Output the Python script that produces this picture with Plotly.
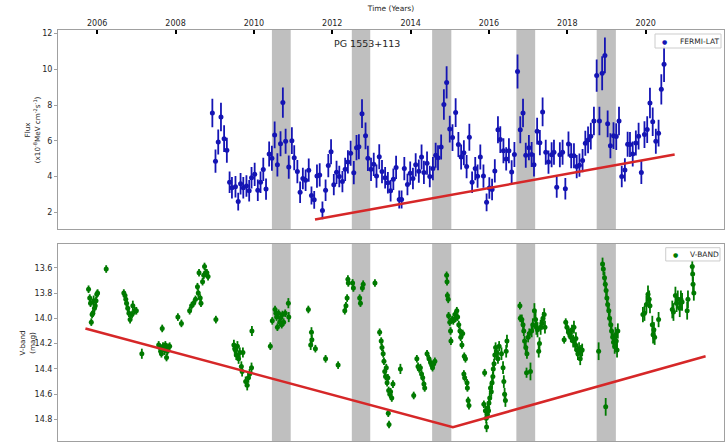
import plotly.graph_objects as go

# ---------------- Fermi-LAT gamma-ray light curve ----------------
flux_year = [
    2008.94, 2009.02, 2009.09, 2009.16, 2009.24, 2009.31, 2009.38, 2009.44, 2009.53, 2009.60,
    2009.66, 2009.73, 2009.81, 2009.88, 2009.94, 2010.02, 2010.10, 2010.17, 2010.24, 2010.31,
    2010.39, 2010.46, 2010.53, 2010.60, 2010.68, 2010.74, 2010.81, 2010.89, 2010.97, 2011.03,
    2011.11, 2011.18, 2011.25, 2011.32, 2011.40, 2011.47, 2011.54, 2011.61, 2011.68, 2011.75,
    2011.83, 2011.90, 2011.97, 2012.04, 2012.11, 2012.18, 2012.26, 2012.33, 2012.40, 2012.47,
    2012.55, 2012.62, 2012.68, 2012.76,
    2012.85, 2012.91, 2012.99, 2013.06, 2013.13, 2013.20, 2013.27, 2013.35, 2013.42, 2013.49,
    2013.56, 2013.63, 2013.71, 2013.77, 2013.84, 2013.92, 2013.99, 2014.06, 2014.13, 2014.21,
    2014.28, 2014.34, 2014.42, 2014.49, 2014.57, 2014.64, 2014.70, 2014.78, 2014.85, 2014.92,
    2015.00, 2015.07, 2015.15, 2015.22, 2015.29, 2015.36, 2015.43, 2015.50, 2015.57, 2015.65,
    2015.71, 2015.78, 2015.86, 2015.94, 2016.01, 2016.08, 2016.15, 2016.23, 2016.29, 2016.37,
    2016.44, 2016.51, 2016.58, 2016.65, 2016.73, 2016.80, 2016.87, 2016.94, 2017.02, 2017.09,
    2017.15, 2017.23, 2017.30, 2017.37, 2017.45, 2017.52, 2017.60, 2017.66, 2017.73, 2017.81,
    2017.88, 2017.95, 2018.03, 2018.10, 2018.17, 2018.24, 2018.31, 2018.39, 2018.46, 2018.53,
    2018.60, 2018.68, 2018.75, 2018.82, 2018.89, 2018.96, 2019.03, 2019.10, 2019.18, 2019.25,
    2019.32, 2019.39, 2019.47, 2019.54, 2019.60, 2019.67, 2019.75, 2019.82, 2019.89, 2019.97,
    2020.04, 2020.11, 2020.18, 2020.26, 2020.33, 2020.40, 2020.47,
]
flux = [
    7.56, 4.86, 5.94, 7.33, 6.12, 5.47, 3.68, 3.38, 3.43, 2.60,
    3.60, 3.38, 3.47, 3.21, 3.94, 4.13, 3.24, 3.68, 4.40, 3.30,
    5.26, 5.03, 6.33, 4.66, 5.84, 8.14, 5.98, 4.53, 6.01, 5.05,
    4.28, 3.13, 3.89, 3.79, 4.36, 2.94, 2.70, 4.03, 4.09, 2.11,
    3.24, 4.62, 5.39, 3.55, 4.24, 4.00, 3.72, 4.41, 4.82, 5.30,
    4.22, 5.62, 5.67, 7.52,
    6.28, 5.02, 4.41, 4.69, 4.03, 5.11, 4.28, 3.94, 3.66, 3.21,
    3.85, 4.51, 2.72, 2.72, 4.45, 3.56, 4.19, 3.89, 4.66, 4.30,
    5.09, 4.23, 4.75, 4.00, 4.45, 5.20, 5.05, 5.66, 8.03, 9.27,
    6.66, 6.18, 7.58, 5.79, 5.09, 5.33, 4.56, 6.20, 3.68, 4.45,
    4.02, 5.09, 4.03, 2.56, 3.36, 3.28, 4.32, 6.62, 6.07, 5.45,
    4.99, 5.45, 4.26, 5.24, 9.88, 6.62, 7.56, 5.20, 5.62, 5.24,
    4.66, 6.54, 5.90, 7.62, 5.36, 4.81, 5.22, 5.36, 3.41, 5.22,
    5.36, 3.32, 5.82, 5.16, 5.16, 4.56, 4.64, 4.90, 5.86, 6.05,
    6.26, 7.11, 9.65, 7.11, 9.78, 10.78, 6.95, 5.73, 6.29, 6.24,
    7.11, 4.00, 4.37, 5.81, 5.79, 5.26, 5.88, 6.26, 4.23, 6.35,
    6.63, 8.12, 7.07, 5.98, 6.43, 8.88, 10.29,
]
flux_err = [
    0.80, 0.65, 0.70, 0.80, 0.75, 0.70, 0.60, 0.60, 0.60, 0.50,
    0.60, 0.60, 0.60, 0.60, 0.60, 0.65, 0.60, 0.60, 0.65, 0.60,
    0.70, 0.70, 0.75, 0.65, 0.70, 0.85, 0.70, 0.65, 0.75, 0.70,
    0.65, 0.60, 0.60, 0.60, 0.65, 0.50, 0.50, 0.65, 0.65, 0.50,
    0.60, 0.65, 0.70, 0.60, 0.65, 0.60, 0.60, 0.65, 0.65, 0.70,
    0.65, 0.70, 0.70, 0.80,
    0.75, 0.70, 0.65, 0.65, 0.65, 0.70, 0.65, 0.60, 0.60, 0.60,
    0.60, 0.65, 0.50, 0.50, 0.65, 0.60, 0.65, 0.60, 0.65, 0.65,
    0.70, 0.65, 0.65, 0.60, 0.65, 0.70, 0.70, 0.70, 0.85, 0.90,
    0.75, 0.75, 0.80, 0.70, 0.70, 0.70, 0.65, 0.75, 0.60, 0.65,
    0.65, 0.70, 0.65, 0.50, 0.60, 0.60, 0.65, 0.75, 0.75, 0.70,
    0.65, 0.70, 0.65, 0.70, 0.95, 0.75, 0.80, 0.70, 0.70, 0.70,
    0.65, 0.75, 0.70, 0.80, 0.70, 0.65, 0.70, 0.70, 0.60, 0.70,
    0.70, 0.60, 0.70, 0.70, 0.70, 0.65, 0.65, 0.65, 0.70, 0.75,
    0.75, 0.80, 0.90, 0.80, 0.95, 1.00, 0.75, 0.70, 0.75, 0.75,
    0.80, 0.60, 0.65, 0.70, 0.70, 0.70, 0.70, 0.75, 0.65, 0.75,
    0.75, 0.85, 0.80, 0.70, 0.75, 0.85, 1.00,
]

# ---------------- optical V-band light curve ----------------
vband_year = [
    2005.78, 2005.81, 2005.83, 2005.85, 2005.87, 2005.89, 2005.91, 2005.93, 2005.95, 2005.97, 2005.99, 2006.01, 2006.23,
    2006.68, 2006.71, 2006.73, 2006.75, 2006.78, 2006.81, 2006.84, 2006.89, 2006.91, 2006.96, 2007.00, 2007.14,
    2007.57, 2007.60, 2007.62, 2007.64, 2007.66, 2007.68, 2007.72, 2007.74, 2007.77, 2007.79, 2007.81, 2007.85, 2008.06, 2008.15,
    2008.36, 2008.41, 2008.46, 2008.51, 2008.56, 2008.58, 2008.60, 2008.63, 2008.65, 2008.69, 2008.72, 2008.74, 2008.77, 2008.80, 2008.83, 2009.03,
    2009.49, 2009.51, 2009.53, 2009.55, 2009.58, 2009.61, 2009.64, 2009.68, 2009.70, 2009.72, 2009.79, 2009.83, 2009.86, 2009.89, 2009.94, 2009.95,
    2010.42, 2010.47, 2010.54, 2010.56, 2010.58, 2010.60, 2010.63, 2010.66, 2010.68, 2010.71, 2010.73, 2010.76, 2010.80, 2010.88, 2010.89,
    2011.39, 2011.45, 2011.47, 2011.48, 2011.57, 2011.83, 2012.15, 2012.32, 2012.35, 2012.38, 2012.40, 2012.41, 2012.52, 2012.54, 2012.70, 2012.72, 2012.77, 2012.79, 2013.09,
    2013.21, 2013.25, 2013.27, 2013.30, 2013.32, 2013.34, 2013.36, 2013.38, 2013.40, 2013.42, 2013.43, 2013.44, 2013.45, 2013.47, 2013.49, 2013.52, 2013.55, 2013.74,
    2014.08, 2014.16, 2014.19, 2014.22, 2014.25, 2014.28, 2014.31, 2014.34, 2014.36, 2014.42, 2014.47, 2014.51, 2014.54, 2014.56, 2014.59, 2014.62,
    2014.92, 2014.93, 2014.94, 2014.96, 2014.97, 2015.00, 2015.02, 2015.03, 2015.06, 2015.09, 2015.13, 2015.15, 2015.18, 2015.20,
    2015.23, 2015.26, 2015.28, 2015.31, 2015.33, 2015.36, 2015.37, 2015.38, 2015.40, 2015.44, 2015.45, 2015.47, 2015.49,
    2015.87, 2015.89, 2015.91, 2015.93, 2015.94, 2015.96, 2015.97, 2015.99, 2016.00, 2016.02, 2016.04, 2016.06, 2016.08, 2016.10,
    2016.11, 2016.13, 2016.15, 2016.17, 2016.20, 2016.23, 2016.26, 2016.32, 2016.36, 2016.38, 2016.40, 2016.42, 2016.44, 2016.46,
    2016.79, 2016.80, 2016.84, 2016.87, 2016.89, 2016.91, 2016.94, 2016.96, 2016.97, 2017.00, 2017.03, 2017.06, 2017.09,
    2017.12, 2017.16, 2017.19, 2017.21, 2017.24, 2017.27, 2017.29, 2017.32, 2017.35, 2017.38, 2017.41, 2017.43,
    2017.92, 2017.96, 2017.99, 2018.03, 2018.06, 2018.09, 2018.12, 2018.15, 2018.17, 2018.20, 2018.22, 2018.25, 2018.27, 2018.30, 2018.33, 2018.35, 2018.38, 2018.80,
    2018.90, 2018.92, 2018.95, 2018.97, 2018.98, 2018.99, 2019.01, 2019.03, 2019.06, 2019.08, 2019.11, 2019.13, 2019.16, 2019.18, 2019.21, 2019.23, 2019.25, 2019.27, 2019.29,
    2019.93, 2019.97, 2020.02, 2020.06, 2020.09, 2020.11, 2020.17, 2020.19, 2020.21, 2020.23, 2020.33,
    2020.68, 2020.71, 2020.76, 2020.79, 2020.82, 2020.87, 2020.90, 2020.93, 2021.06, 2021.08, 2021.19, 2021.20, 2021.21, 2021.23,
]
vband_mag = [
    13.77, 13.84, 13.88, 14.03, 13.97, 13.96, 13.86, 13.92, 13.90, 13.86, 13.81, 13.80, 13.61,
    13.80, 13.82, 13.85, 13.88, 13.92, 13.96, 14.01, 13.97, 13.90, 13.94, 13.94, 14.28,
    14.21, 14.23, 14.26, 14.28, 14.08, 14.22, 14.25, 14.21, 14.31, 14.26, 14.23, 14.22, 13.99, 14.04,
    13.94, 13.90, 13.88, 13.85, 13.75, 13.80, 13.64, 13.84, 13.88, 13.71, 13.66, 13.59, 13.64, 13.64, 13.67, 14.01,
    14.21, 14.24, 14.25, 14.29, 14.22, 14.32, 14.27, 14.38, 14.42, 14.27, 14.50, 14.53, 14.47, 14.44, 14.39, 14.10,
    14.22, 14.02, 13.93, 13.96, 13.99, 14.07, 13.96, 14.03, 14.00, 14.05, 13.97, 14.03, 13.96, 13.88, 13.99,
    13.93, 14.21, 14.11, 14.17, 14.24, 14.32, 14.37, 13.94, 13.90, 13.84, 13.69, 13.72, 13.72, 13.76, 13.84, 13.88, 13.76, 13.73, 13.72,
    14.11, 14.18, 14.23, 14.28, 14.34, 14.42, 14.46, 14.39, 14.51, 14.47, 14.75, 14.57, 14.84, 14.60, 14.58, 14.63, 14.52, 14.40,
    14.61, 14.32, 14.38, 14.40, 14.39, 14.44, 14.47, 14.52, 14.55, 14.28, 14.32, 14.35, 14.37, 14.39, 14.36, 14.34,
    13.66, 13.71, 13.82, 13.85, 13.98, 14.03, 14.10, 14.18, 14.01, 14.02, 13.97, 14.00, 13.94, 13.99,
    14.05, 14.10, 14.15, 14.21, 14.12, 14.44, 14.30, 14.47, 14.32, 14.51, 14.55, 14.65, 14.69,
    14.68, 14.43, 14.73, 14.79, 14.86, 14.76, 14.71, 14.73, 14.67, 14.63, 14.55, 14.58, 14.51, 14.46,
    14.40, 14.36, 14.29, 14.23, 14.27, 14.32, 14.22, 14.28, 14.39, 14.50, 14.60, 14.65, 14.26, 14.18,
    13.90, 14.00, 14.01, 14.05, 14.10, 14.18, 14.23, 14.43, 14.28, 14.15, 14.12, 14.42, 14.10,
    14.05, 13.94, 14.01, 14.07, 14.09, 14.26, 14.20, 14.07, 14.04, 14.00, 13.97, 14.07,
    14.17, 14.03, 14.07, 14.11, 14.12, 14.15, 14.09, 14.18, 14.07, 14.21, 14.16, 14.25, 14.28, 14.24, 14.32, 14.26, 14.25, 14.26,
    13.57, 13.61, 13.68, 13.73, 14.70, 13.78, 13.84, 13.89, 13.94, 14.00, 14.05, 14.10, 14.15, 14.19, 14.22, 14.13, 14.18, 14.25, 14.10,
    13.97, 13.96, 13.89, 13.81, 13.85, 13.90, 14.05, 14.13, 14.09, 14.15, 14.01,
    13.93, 13.95, 13.82, 13.88, 13.85, 13.92, 13.85, 13.87, 13.94, 13.85, 13.59, 13.65, 13.73, 13.80,
]
vband_err = [
    0.03, 0.03, 0.03, 0.03, 0.03, 0.03, 0.04, 0.03, 0.03, 0.03, 0.03, 0.03, 0.03,
    0.03, 0.03, 0.03, 0.03, 0.03, 0.03, 0.03, 0.03, 0.04, 0.03, 0.03, 0.04,
    0.03, 0.03, 0.03, 0.03, 0.03, 0.03, 0.04, 0.03, 0.03, 0.03, 0.03, 0.03, 0.03, 0.03,
    0.03, 0.03, 0.03, 0.03, 0.03, 0.03, 0.03, 0.03, 0.03, 0.03, 0.03, 0.03, 0.03, 0.03, 0.03, 0.03,
    0.04, 0.04, 0.04, 0.04, 0.04, 0.04, 0.04, 0.04, 0.04, 0.04, 0.04, 0.04, 0.04, 0.04, 0.04, 0.04,
    0.03, 0.03, 0.03, 0.03, 0.03, 0.03, 0.03, 0.03, 0.03, 0.03, 0.03, 0.03, 0.03, 0.04, 0.04,
    0.03, 0.04, 0.04, 0.04, 0.03, 0.03, 0.03, 0.03, 0.03, 0.03, 0.03, 0.03, 0.03, 0.03, 0.03, 0.03, 0.03, 0.03, 0.03,
    0.03, 0.03, 0.03, 0.03, 0.03, 0.03, 0.03, 0.03, 0.03, 0.03, 0.03, 0.03, 0.03, 0.03, 0.03, 0.03, 0.03, 0.04,
    0.03, 0.03, 0.03, 0.03, 0.03, 0.03, 0.03, 0.03, 0.03, 0.03, 0.03, 0.03, 0.03, 0.03, 0.03, 0.03,
    0.03, 0.03, 0.03, 0.03, 0.03, 0.03, 0.03, 0.03, 0.03, 0.03, 0.03, 0.03, 0.03, 0.03,
    0.03, 0.03, 0.03, 0.03, 0.03, 0.03, 0.03, 0.03, 0.03, 0.03, 0.03, 0.03, 0.03,
    0.03, 0.03, 0.04, 0.04, 0.04, 0.04, 0.04, 0.04, 0.04, 0.04, 0.04, 0.04, 0.04, 0.04,
    0.04, 0.04, 0.04, 0.04, 0.04, 0.04, 0.04, 0.05, 0.05, 0.05, 0.05, 0.05, 0.05, 0.05,
    0.03, 0.03, 0.04, 0.04, 0.04, 0.04, 0.04, 0.04, 0.04, 0.04, 0.04, 0.07, 0.05,
    0.05, 0.06, 0.06, 0.06, 0.06, 0.05, 0.05, 0.06, 0.05, 0.05, 0.05, 0.05,
    0.03, 0.03, 0.04, 0.04, 0.04, 0.04, 0.04, 0.05, 0.05, 0.05, 0.05, 0.05, 0.05, 0.05, 0.05, 0.05, 0.05, 0.07,
    0.05, 0.05, 0.05, 0.05, 0.07, 0.05, 0.05, 0.05, 0.05, 0.05, 0.05, 0.05, 0.05, 0.05, 0.06, 0.06, 0.06, 0.06, 0.06,
    0.06, 0.06, 0.07, 0.07, 0.07, 0.06, 0.07, 0.07, 0.06, 0.06, 0.06,
    0.07, 0.07, 0.07, 0.07, 0.07, 0.07, 0.07, 0.07, 0.07, 0.07, 0.05, 0.06, 0.06, 0.06,
]

# ---------------- long-term trends and flaring windows ----------------
flux_trend_year = [2011.56, 2020.74]
flux_trend = [1.60, 5.24]
vband_trend_year = [2005.70, 2015.08, 2021.53]
vband_trend = [14.08, 14.86, 14.30]

band_start = [2010.46, 2012.50, 2014.55, 2016.70, 2018.75]
band_end = [2010.94, 2012.97, 2015.04, 2017.18, 2019.24]

year_ticks = [2006, 2008, 2010, 2012, 2014, 2016, 2018, 2020, 2022]

assert len(flux_year) == len(flux) == len(flux_err)
assert len(vband_year) == len(vband_mag) == len(vband_err)

BLUE = "#1414b4"
GREEN = "#007a00"
RED = "#d62728"
BAND = "#bfbfbf"
FONT = "DejaVu Sans, sans-serif"
TXT = "#262626"
SPINE = "#a0a0a0"

fig = go.Figure()

fig.add_trace(go.Scatter(
    x=flux_year, y=flux, mode="markers", name="FERMI-LAT", showlegend=False,
    marker=dict(color=BLUE, size=5),
    error_y=dict(type="data", array=flux_err, color=BLUE, thickness=1.8, width=0),
    xaxis="x", yaxis="y",
))
fig.add_trace(go.Scatter(
    x=flux_trend_year, y=flux_trend, mode="lines", showlegend=False,
    line=dict(color=RED, width=2.5), xaxis="x", yaxis="y",
))

fig.add_trace(go.Scatter(
    x=vband_year, y=vband_mag, mode="markers", name="V-BAND", showlegend=False,
    marker=dict(color=GREEN, size=5),
    error_y=dict(type="data", array=vband_err, color=GREEN, thickness=1.8, width=0),
    xaxis="x2", yaxis="y2",
))
fig.add_trace(go.Scatter(
    x=vband_trend_year, y=vband_trend, mode="lines", showlegend=False,
    line=dict(color=RED, width=2.5), xaxis="x2", yaxis="y2",
))

# flaring windows shaded in both panels
shapes = []
for x0, x1 in zip(band_start, band_end):
    for xr, yr in (("x", "y domain"), ("x2", "y2 domain")):
        shapes.append(dict(type="rect", xref=xr, yref=yr, x0=x0, x1=x1, y0=0, y1=1,
                           fillcolor=BAND, line=dict(width=0), layer="below"))

# compact legend boxes (one per panel)
legend_boxes = [
    dict(x0=0.8964, x1=0.9955, y0=0.9562, y1=0.9903, dot_x=0.9114, text_x=0.9304,
         yc=0.9732, color=BLUE, label="FERMI-LAT"),
    dict(x0=0.9125, x1=0.9940, y0=0.4380, y1=0.4703, dot_x=0.9275, text_x=0.9460,
         yc=0.4541, color=GREEN, label="V-BAND"),
]
annotations = [dict(text="PG 1553+113", x=2012.88, y=11.45, xref="x", yref="y",
                    showarrow=False, font=dict(family=FONT, size=9.5, color=TXT))]
for lb in legend_boxes:
    shapes.append(dict(type="rect", xref="paper", yref="paper",
                       x0=lb["x0"], x1=lb["x1"], y0=lb["y0"], y1=lb["y1"],
                       fillcolor="rgba(255,255,255,0.9)", line=dict(color="#cccccc", width=1),
                       layer="above"))
    annotations.append(dict(text="●", x=lb["dot_x"], y=lb["yc"], xref="paper", yref="paper",
                            showarrow=False, xanchor="center", yanchor="middle",
                            font=dict(family=FONT, size=6, color=lb["color"])))
    annotations.append(dict(text=lb["label"], x=lb["text_x"], y=lb["yc"], xref="paper", yref="paper",
                            showarrow=False, xanchor="left", yanchor="middle",
                            font=dict(family=FONT, size=7.5, color=TXT)))

# y-axis titles (two centred lines each)
ytitles = [
    ("Flux<br>(x10<sup>-8</sup>MeV cm<sup>-2</sup>s<sup>-1</sup>)", -0.0385, 0.757),
    ("V-band<br>(mag)", -0.0460, 0.238),
]
for text, x, y in ytitles:
    annotations.append(dict(text=text, x=x, y=y, xref="paper", yref="paper", textangle=-90,
                            showarrow=False, xanchor="center", yanchor="middle", align="center",
                            font=dict(family=FONT, size=7.2, color=TXT)))

axis_common = dict(showline=True, linecolor=SPINE, linewidth=1, mirror=True,
                   showgrid=False, zeroline=False,
                   tickfont=dict(family=FONT, size=8, color=TXT))

fig.update_layout(
    width=728, height=442,
    margin=dict(l=58, r=4, t=30, b=1),
    paper_bgcolor="white", plot_bgcolor="white",
    font=dict(family=FONT, color=TXT),
    showlegend=False,
    shapes=shapes,
    annotations=annotations,
    xaxis=dict(axis_common, domain=[0, 1], range=[2005, 2022], anchor="y", side="top",
               tickvals=year_ticks, ticktext=[str(v) for v in year_ticks],
               ticks="inside", ticklen=4, tickwidth=2, tickcolor="black",
               title=dict(text="Time (Years)", font=dict(family=FONT, size=7.5, color=TXT), standoff=6)),
    yaxis=dict(axis_common, domain=[0.515, 1], range=[1.05, 12.2], anchor="x",
               tickvals=[2, 4, 6, 8, 10, 12], ticks="outside", ticklen=3, tickcolor=SPINE),
    xaxis2=dict(axis_common, domain=[0, 1], range=[2005, 2022], anchor="y2",
                showticklabels=False, ticks=""),
    yaxis2=dict(axis_common, domain=[0, 0.48], range=[14.97, 13.41], anchor="x2",
                tickvals=[13.6, 13.8, 14.0, 14.2, 14.4, 14.6, 14.8],
                ticktext=["13.6", "13.8", "14.0", "14.2", "14.4", "14.6", "14.8"],
                ticks="outside", ticklen=3, tickcolor=SPINE),
)

fig.write_html("out.html")
